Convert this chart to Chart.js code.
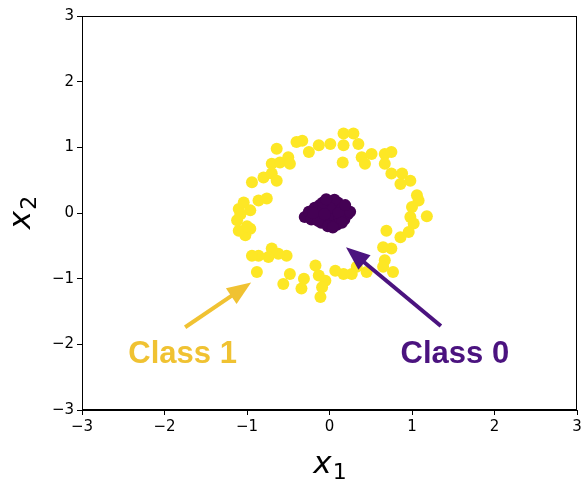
<!DOCTYPE html>
<html>
<head>
<meta charset="utf-8">
<script src="https://cdn.jsdelivr.net/npm/chart.js@4"></script>
<style>
  html, body { margin: 0; padding: 0; background: #fff; }
  canvas { display: block; }
</style>
</head>
<body>
<canvas id="chart" width="583" height="481"></canvas>
<script>
// class 1: outer ring (x1, x2)
const ringX = [-0.64, -0.40, -0.33, -0.25, -0.13, 0.01, 0.17, 0.29, 0.17, 0.35, 0.16, 0.39, 0.51, 0.43, 0.67,
  0.75, 0.67, 0.75, 0.88, 0.98, 0.86, 1.06, 1.08, 1.00, 0.98, 1.18, 1.02, 0.96, 0.86, 0.69, 0.65, 0.75, 0.67,
  0.77, 0.65, 0.45, 0.33, 0.27, 0.17, 0.07, -0.05, -0.09, -0.11, -0.17, -0.13, -0.31, -0.34, -0.48, -0.56,
  -0.52, -0.62, -0.70, -0.74, -0.86, -0.94, -0.88, -1.02, -1.10, -0.96, -1.12, -1.10, -1.04, -0.96, -0.86,
  -0.76, -0.94, -0.80, -0.70, -0.64, -0.70, -0.60, -0.50, -0.48, -1.08, -1.00];
const ringY = [0.98, 1.08, 1.10, 0.93, 1.03, 1.05, 1.21, 1.21, 1.03, 1.05, 0.77, 0.85, 0.90, 0.75, 0.90,
  0.93, 0.75, 0.60, 0.60, 0.49, 0.44, 0.27, 0.19, 0.09, -0.06, -0.05, -0.16, -0.29, -0.37, -0.27, -0.52, -0.54, -0.72,
  -0.90, -0.82, -0.90, -0.82, -0.93, -0.93, -0.88, -1.03, -1.13, -1.28, -0.80, -0.95, -1.00, -1.15, -0.93, -1.08,
  -0.65, -0.62, -0.54, -0.67, -0.65, -0.65, -0.90, -0.34, -0.27, -0.24, -0.11, 0.06, 0.16, 0.04, 0.19,
  0.22, 0.47, 0.54, 0.60, 0.49, 0.75, 0.77, 0.85, 0.75, -0.02, -0.20];

// class 0: inner blob
const coreX = [-0.30, -0.25, -0.22, -0.18, -0.15, -0.12, -0.10, -0.08, -0.05, -0.03, 0.00, 0.02, 0.03, 0.05,
  0.07, 0.09, 0.10, 0.12, 0.14, 0.16, 0.18, 0.20, 0.22, 0.25, -0.02, 0.06, -0.14, 0.00, -0.06, 0.11, -0.20,
  0.15, 0.04, -0.08, -0.04, 0.19];
const coreY = [-0.06, 0.02, -0.10, 0.08, -0.02, 0.12, -0.15, 0.05, -0.08, 0.18, 0.02, -0.12, 0.14, -0.04,
  0.08, -0.18, 0.16, -0.06, 0.03, 0.10, -0.10, 0.05, -0.02, 0.02, -0.20, 0.20, -0.12, 0.08, -0.02, 0.00, 0.00,
  -0.15, -0.22, 0.16, 0.21, 0.12];

const tickValues = [-3, -2, -1, 0, 1, 2, 3];

// annotations: label, text position, arrow tail, arrow tip
const noteLabels = ["Class 1", "Class 0"];
const noteTextX = [-1.78, 1.52];
const noteTextY = [-2.29, -2.29];
const arrowFromX = [-1.75, 1.35];
const arrowFromY = [-1.74, -1.72];
const arrowToX = [-0.95, 0.20];
const arrowToY = [-1.06, -0.52];
const noteColors = ["#f0c232", "#4b137f"];

const YELLOW = "#fde725";
const PURPLE = "#440154";

const toPoints = (xs, ys) => xs.map((x, i) => ({ x: x, y: ys[i] }));
const minus = (v) => String(v).replace("-", "\u2212");

const framePlugin = {
  id: "frame",
  afterDraw(chart) {
    const { ctx, chartArea: a, scales } = chart;
    ctx.save();
    ctx.strokeStyle = "#000";
    ctx.lineWidth = 1;
    ctx.strokeRect(a.left + 0.5, a.top + 0.5, a.right - a.left - 1, a.bottom - a.top - 1);

    // arrows + labels
    for (let i = 0; i < noteLabels.length; i++) {
      const x0 = scales.x.getPixelForValue(arrowFromX[i]);
      const y0 = scales.y.getPixelForValue(arrowFromY[i]);
      const x1 = scales.x.getPixelForValue(arrowToX[i]);
      const y1 = scales.y.getPixelForValue(arrowToY[i]);
      const ang = Math.atan2(y1 - y0, x1 - x0);
      const headLen = 24, headHalf = 9.5;
      const bx = x1 - headLen * Math.cos(ang), by = y1 - headLen * Math.sin(ang);
      ctx.strokeStyle = noteColors[i];
      ctx.fillStyle = noteColors[i];
      ctx.lineWidth = 4;
      ctx.beginPath();
      ctx.moveTo(x0, y0);
      ctx.lineTo(bx + 2 * Math.cos(ang), by + 2 * Math.sin(ang));
      ctx.stroke();
      ctx.beginPath();
      ctx.moveTo(x1, y1);
      ctx.lineTo(bx + headHalf * Math.sin(ang), by - headHalf * Math.cos(ang));
      ctx.lineTo(bx - headHalf * Math.sin(ang), by + headHalf * Math.cos(ang));
      ctx.closePath();
      ctx.fill();

      ctx.font = "bold 31px 'Liberation Sans', Arial, sans-serif";
      ctx.textAlign = "center";
      ctx.textBaseline = "alphabetic";
      ctx.fillText(noteLabels[i], scales.x.getPixelForValue(noteTextX[i]), scales.y.getPixelForValue(noteTextY[i]));
    }

    // axis labels x_1 / x_2
    ctx.fillStyle = "#000";
    ctx.textAlign = "left";
    const mainFont = "italic 31px 'DejaVu Sans'";
    const subFont = "22px 'DejaVu Sans'";
    const drawSym = (sub, cx, base) => {
      ctx.font = mainFont;
      const w1 = ctx.measureText("x").width;
      ctx.font = subFont;
      const w2 = ctx.measureText(sub).width;
      const start = cx - (w1 + w2) / 2;
      ctx.font = mainFont;
      ctx.fillText("x", start, base);
      ctx.font = subFont;
      ctx.fillText(sub, start + w1 + 1, base + 6);
    };
    drawSym("1", (a.left + a.right) / 2, 473);
    ctx.translate(30, (a.top + a.bottom) / 2);
    ctx.rotate(-Math.PI / 2);
    drawSym("2", 0, 0);
    ctx.restore();
  }
};

const axisCommon = {
  type: "linear",
  min: -3,
  max: 3,
  afterBuildTicks: (axis) => { axis.ticks = tickValues.map(v => ({ value: v })); },
  grid: { display: true, drawOnChartArea: false, drawTicks: true, tickLength: 5, color: "#000" },
  border: { display: true, color: "#000", width: 1 },
  ticks: {
    color: "#000",
    padding: 3,
    font: { family: "'DejaVu Sans'", size: 15 },
    callback: (v) => minus(v)
  }
};

new Chart(document.getElementById("chart"), {
  type: "scatter",
  data: {
    datasets: [
      {
        label: "Class 1",
        data: toPoints(ringX, ringY),
        backgroundColor: YELLOW,
        borderWidth: 0,
        pointRadius: 6,
        pointHoverRadius: 6
      },
      {
        label: "Class 0",
        data: toPoints(coreX, coreY),
        backgroundColor: PURPLE,
        borderWidth: 0,
        pointRadius: 6,
        pointHoverRadius: 6
      }
    ]
  },
  options: {
    responsive: false,
    animation: false,
    layout: { padding: { top: 16, right: 5, left: 0, bottom: 0 } },
    plugins: { legend: { display: false }, tooltip: { enabled: false } },
    scales: {
      x: Object.assign({}, axisCommon, {
        afterFit: (s) => { s.height = 71; s.paddingLeft = 0; s.paddingRight = 0; }
      }),
      y: Object.assign({}, axisCommon, {
        afterFit: (s) => { s.width = 82; s.paddingTop = 0; s.paddingBottom = 0; }
      })
    }
  },
  plugins: [framePlugin]
});
</script>
</body>
</html>
